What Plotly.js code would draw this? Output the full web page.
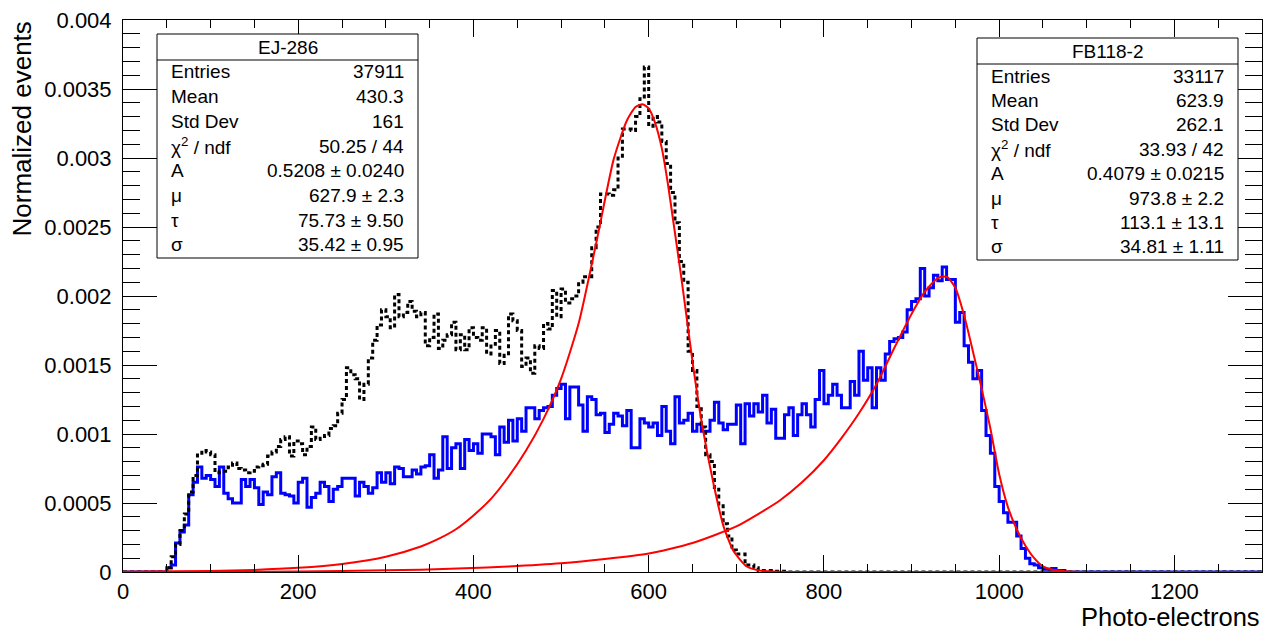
<!DOCTYPE html>
<html>
<head>
<meta charset="utf-8">
<script src="https://cdn.plot.ly/plotly-3.0.1.min.js"></script>
<style>html,body{margin:0;padding:0;background:#fff;}</style>
</head>
<body>
<div id="chart" style="width:1273px;height:633px;"></div>
<script>
// ---------------- data ----------------
const binWidth = 5;            // photo-electrons per bin
const xMax = 1300;

// FB118-2 (blue, solid) : first bin lower edge and bin contents
const fbFirstEdge = 50;
const fbValues = [
 0.00003,0.00005,0.00021,0.00029,0.00034,0.00056,0.00065,0.00076,0.00068,0.00070,
 0.00067,0.00062,0.00076,0.00057,0.00053,0.00050,0.00050,0.00067,0.00062,0.00067,
 0.00061,0.00049,0.00058,0.00056,0.00069,0.00072,0.00057,0.00056,0.00055,0.00050,
 0.00065,0.00068,0.00047,0.00054,0.00057,0.00065,0.00062,0.00051,0.00060,0.00062,
 0.00068,0.00068,0.00068,0.00055,0.00065,0.00062,0.00057,0.00061,0.00072,0.00065,
 0.00072,0.00064,0.00076,0.00075,0.00069,0.00069,0.00074,0.00071,0.00076,0.00077,
 0.00085,0.00068,0.00074,0.00098,0.00075,0.00090,0.00093,0.00075,0.00096,0.00088,
 0.00093,0.00086,0.00100,0.00100,0.00098,0.00085,0.00105,0.00094,0.00110,0.00095,
 0.00111,0.00102,0.00119,0.00119,0.00111,0.00117,0.00119,0.00120,0.00128,0.00133,
 0.00136,0.00111,0.00134,0.00134,0.00121,0.00102,0.00127,0.00125,0.00114,0.00115,
 0.00101,0.00107,0.00115,0.00113,0.00106,0.00117,0.00090,0.00090,0.00111,0.00108,
 0.00105,0.00108,0.00099,0.00120,0.00102,0.00093,0.00127,0.00108,0.00110,0.00115,
 0.00102,0.00107,0.00102,0.00102,0.00110,0.00123,0.00108,0.00103,0.00107,0.00107,
 0.00121,0.00093,0.00122,0.00113,0.00122,0.00116,0.00128,0.00108,0.00118,0.00097,
 0.00097,0.00114,0.00119,0.00099,0.00114,0.00122,0.00114,0.00105,0.00125,0.00146,
 0.00122,0.00128,0.00136,0.00128,0.00119,0.00119,0.00138,0.00128,0.00160,0.00139,
 0.00148,0.00119,0.00148,0.00139,0.00158,0.00167,0.00169,0.00170,0.00174,0.00190,
 0.00196,0.00198,0.00220,0.00200,0.00206,0.00215,0.00211,0.00221,0.00212,0.00212,
 0.00181,0.00188,0.00164,0.00152,0.00140,0.00146,0.00117,0.00099,0.00086,0.00062,
 0.00051,0.00043,0.00036,0.00036,0.00026,0.00017,0.00010,0.00006,0.00005,0.00003,
 0.00002,0.00002,0.000025,0.00001,0.00001
];

// EJ-286 (black, dotted)
const ejFirstEdge = 50;
const ejValues = [
 0.00003,0.00011,0.00020,0.00030,0.00042,0.00058,0.00070,0.00086,0.00088,0.00087,
 0.00085,0.00072,0.00073,0.00073,0.00076,0.00079,0.00075,0.00074,0.00072,0.00073,
 0.00076,0.00077,0.00078,0.00084,0.00087,0.00091,0.00096,0.00098,0.00084,0.00095,
 0.00093,0.00085,0.00091,0.00105,0.00096,0.00097,0.00099,0.00104,0.00106,0.00115,
 0.00125,0.00148,0.00143,0.00140,0.00125,0.00136,0.00155,0.00168,0.00179,0.00190,
 0.00185,0.00177,0.00201,0.00185,0.00188,0.00196,0.00189,0.00185,0.00188,0.00164,
 0.00170,0.00187,0.00162,0.00168,0.00172,0.00181,0.00161,0.00172,0.00161,0.00177,
 0.00170,0.00168,0.00177,0.00158,0.00165,0.00175,0.00151,0.00157,0.00187,0.00182,
 0.00175,0.00149,0.00155,0.00144,0.00164,0.00162,0.00180,0.00176,0.00204,0.00185,
 0.00205,0.00195,0.00198,0.00200,0.00210,0.00214,0.00214,0.00235,0.00250,0.00274,
 0.00274,0.00273,0.00277,0.00300,0.00321,0.00321,0.00320,0.00330,0.00343,0.00366,
 0.00323,0.00330,0.00326,0.00312,0.00296,0.00275,0.00253,0.00225,0.00210,0.00160,
 0.00146,0.00120,0.00105,0.00085,0.00080,0.00060,0.00048,0.00035,0.00026,0.00016,
 0.00013,0.00013,0.00005,0.00005,0.00003,0.00001,0.00001,0.00001,0.000005,0.000005,
 0.000005
];

// fit curves (x in photo-electrons, y normalized)
const ejFitX = [0,100,150,200,250,300,340,360,380,400,420,440,460,480,500,520,540,560,575,585,593,600,607,615,622,629,636,643,651,662,674,685,697,712,727,750,780,1300];
const ejFitY = [0.000002,0.000008,0.000015,0.00003,0.000058,0.000111,0.000185,0.00024,0.00031,0.00041,0.00053,0.00069,0.00088,0.00111,0.00140,0.00180,0.00238,0.00299,0.00327,0.00337,0.00339,0.00336,0.00326,0.00307,0.00281,0.00250,0.00219,0.00186,0.00148,0.00103,0.00064,0.00034,0.00015,0.00004,0.00001,0.000002,0,0];
const fbFitX = [0,100,200,300,340,390,440,500,550,600,650,700,725,750,775,800,820,840,860,880,900,915,930,940,950,960,970,980,990,1000,1010,1020,1030,1040,1050,1060,1075,1100,1300];
const fbFitY = [0,0.000001,0.000004,0.000012,0.000016,0.000027,0.00004,0.000063,0.000094,0.000134,0.00021,0.00033,0.00042,0.00052,0.00065,0.00081,0.00097,0.00115,0.00136,0.00162,0.00187,0.00203,0.00213,0.00214,0.00206,0.00186,0.00160,0.00133,0.00104,0.00071,0.00047,0.00031,0.00019,0.00010,0.00004,0.000018,0.000006,0,0];

// axis ticks
const xTickVals = [0,200,400,600,800,1000,1200];
const xTickText = ["0","200","400","600","800","1000","1200"];
const yTickVals = [0,0.0005,0.001,0.0015,0.002,0.0025,0.003,0.0035,0.004];
const yTickText = ["0","0.0005","0.001","0.0015","0.002","0.0025","0.003","0.0035","0.004"];

// statistics boxes
const statLabels = ["Entries","Mean","Std Dev","\u03c7<sup>2</sup> / ndf","A","\u03bc","\u03c4","\u03c3"];
const ejTitle = "EJ-286";
const ejStats = ["37911","430.3","161","50.25 / 44","0.5208 \u00b1 0.0240","627.9 \u00b1 2.3","75.73 \u00b1 9.50","35.42 \u00b1 0.95"];
const fbTitle = "FB118-2";
const fbStats = ["33117","623.9","262.1","33.93 / 42","0.4079 \u00b1 0.0215","973.8 \u00b1 2.2","113.1 \u00b1 13.1","34.81 \u00b1 1.11"];

// ---------------- build ----------------
function histSteps(firstEdge, vals) {
  const xs = [0], ys = [0];
  for (let i = 0; i < vals.length; i++) { xs.push(firstEdge + i * binWidth); ys.push(vals[i]); }
  xs.push(firstEdge + vals.length * binWidth); ys.push(0);
  xs.push(xMax); ys.push(0);
  return {x: xs, y: ys};
}
const fbH = histSteps(fbFirstEdge, fbValues);
const ejH = histSteps(ejFirstEdge, ejValues);

const traces = [
  {x: fbH.x, y: fbH.y, type: 'scatter', mode: 'lines', line: {shape: 'hv', color: 'rgb(0,0,255)', width: 3}, hoverinfo: 'skip'},
  {x: ejH.x, y: ejH.y, type: 'scatter', mode: 'lines', line: {shape: 'hv', color: 'black', width: 3, dash: '4px,3px'}, hoverinfo: 'skip'},
  {x: ejFitX, y: ejFitY, type: 'scatter', mode: 'lines', line: {shape: 'spline', smoothing: 0.6, color: 'rgb(255,0,0)', width: 2}, hoverinfo: 'skip'},
  {x: fbFitX, y: fbFitY, type: 'scatter', mode: 'lines', line: {shape: 'spline', smoothing: 0.6, color: 'rgb(255,0,0)', width: 2}, hoverinfo: 'skip'}
];

// pixel -> paper helpers (plot area 123..1262 x 20..572)
const L = 123, R = 1262, T = 20, B = 572;
const px = p => (p - L) / (R - L);
const py = p => (B - p) / (B - T);

const FONT = 'Liberation Sans, Arial, Helvetica, sans-serif';
const shapes = [], annotations = [];

function statBox(x0, x1, y0, y1, headY, lineY, rowY0, rowStep, title, vals) {
  shapes.push({type: 'rect', xref: 'paper', yref: 'paper', x0: px(x0), x1: px(x1), y0: py(y1), y1: py(y0),
               line: {color: 'black', width: 1}, fillcolor: 'white', layer: 'above'});
  shapes.push({type: 'line', xref: 'paper', yref: 'paper', x0: px(x0), x1: px(x1), y0: py(lineY), y1: py(lineY),
               line: {color: 'black', width: 1}, layer: 'above'});
  annotations.push({xref: 'paper', yref: 'paper', x: px((x0 + x1) / 2), y: py(headY), text: title, showarrow: false,
                    xanchor: 'center', yanchor: 'middle', font: {family: FONT, size: 19, color: 'black'}});
  for (let i = 0; i < statLabels.length; i++) {
    const yy = py(rowY0 + i * rowStep);
    annotations.push({xref: 'paper', yref: 'paper', x: px(x0 + 12), y: yy, text: statLabels[i], showarrow: false,
                      xanchor: 'left', yanchor: 'middle', font: {family: FONT, size: 19, color: 'black'}});
    annotations.push({xref: 'paper', yref: 'paper', x: px(x1 - 12), y: yy, text: vals[i], showarrow: false,
                      xanchor: 'right', yanchor: 'middle', font: {family: FONT, size: 19, color: 'black'}});
  }
}
statBox(157, 418, 34, 258, 47, 60, 72, 24.7, ejTitle, ejStats);
statBox(977, 1238, 38, 260, 51, 64, 76, 24.4, fbTitle, fbStats);

annotations.push({xref: 'paper', yref: 'paper', x: px(21), y: 1, text: 'Normalized events', showarrow: false,
                  textangle: -90, xanchor: 'center', yanchor: 'top', font: {family: FONT, size: 26, color: 'black'}});
annotations.push({xref: 'paper', yref: 'paper', x: 1, y: py(617), text: 'Photo-electrons', showarrow: false,
                  xanchor: 'right', yanchor: 'middle', font: {family: FONT, size: 25.5, color: 'black'}});

const layout = {
  width: 1273, height: 633,
  margin: {l: 123, r: 11, t: 20, b: 61, pad: 0},
  paper_bgcolor: 'white', plot_bgcolor: 'white',
  showlegend: false,
  xaxis: {
    range: [0, xMax], tickmode: 'array', tickvals: xTickVals, ticktext: xTickText,
    ticks: 'inside', ticklen: 17, tickwidth: 1, tickcolor: 'black',
    showline: true, linecolor: 'black', linewidth: 1, mirror: 'allticks',
    showgrid: false, zeroline: false,
    minor: {tickmode: 'linear', tick0: 0, dtick: 50, ticks: 'inside', ticklen: 8, tickcolor: 'black', tickwidth: 1, showgrid: false},
    tickfont: {family: FONT, size: 22, color: 'black'}
  },
  yaxis: {
    range: [0, 0.004], tickmode: 'array', tickvals: yTickVals, ticktext: yTickText,
    ticks: 'inside', ticklen: 34, tickwidth: 1, tickcolor: 'black',
    showline: true, linecolor: 'black', linewidth: 1, mirror: 'allticks',
    showgrid: false, zeroline: false, ticklabelstandoff: 6,
    minor: {tickmode: 'linear', tick0: 0, dtick: 0.0001, ticks: 'inside', ticklen: 17, tickcolor: 'black', tickwidth: 1, showgrid: false},
    tickfont: {family: FONT, size: 22, color: 'black'}
  },
  shapes: shapes,
  annotations: annotations
};

Plotly.newPlot('chart', traces, layout, {staticPlot: true, displayModeBar: false});
</script>
</body>
</html>
